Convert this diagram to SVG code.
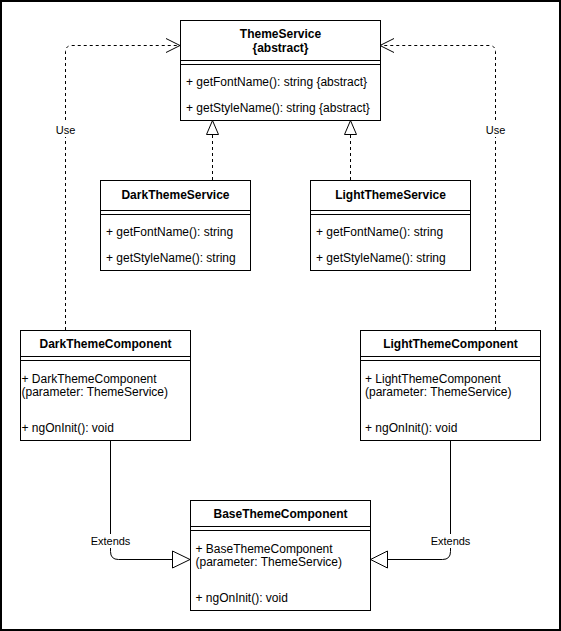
<svg xmlns="http://www.w3.org/2000/svg" width="561" height="631" viewBox="0 0 561 631">
<style>
.box{fill:#fff;stroke:#000;stroke-width:1}
.ln{stroke:#000;stroke-width:1;fill:none}
.t{font-family:"Liberation Sans",Arial,Helvetica,sans-serif;font-size:12px;fill:#000}
.b{font-weight:bold;text-anchor:middle}
.lbl{font-family:"Liberation Sans",Arial,Helvetica,sans-serif;font-size:11px;fill:#000;text-anchor:middle}
.dash{stroke:#000;stroke-width:1;fill:none;stroke-dasharray:3 3}
.sol{stroke:#000;stroke-width:1;fill:none}
.tri{fill:#fff;stroke:#000;stroke-width:1}
</style>
<rect x="0" y="0" width="561" height="631" fill="#fff"/>
<rect x="1" y="1" width="559" height="629" fill="none" stroke="#000" stroke-width="2"/>

<g id="connectors">
  <path class="dash" d="M65.5 330 V52 Q65.5 45.5 72 45.5 H179"/>
  <polyline class="ln" points="166,38.5 180,45.5 166,52.5"/>
  <path class="dash" d="M495.5 330 V52 Q495.5 45.5 489 45.5 H381"/>
  <polyline class="ln" points="394,38.5 380,45.5 394,52.5"/>
  <path class="dash" d="M212.5 180 V134.5"/>
  <polygon class="tri" points="212.5,120.5 206.5,134.5 218.5,134.5"/>
  <path class="dash" d="M350.5 180 V134.5"/>
  <polygon class="tri" points="350.5,120.5 344.5,134.5 356.5,134.5"/>
  <path class="sol" d="M110.5 440 V551.5 Q110.5 559.5 118.5 559.5 H172.5"/>
  <polygon class="tri" points="172.5,551 190,559.5 172.5,568"/>
  <path class="sol" d="M450.5 440 V551.5 Q450.5 559.5 442.5 559.5 H387.5"/>
  <polygon class="tri" points="387.5,551 370.5,559.5 387.5,568"/>
  <rect x="54" y="123" width="23" height="14" fill="#fff"/>
  <text class="lbl" x="65.5" y="134">Use</text>
  <rect x="484" y="123" width="23" height="14" fill="#fff"/>
  <text class="lbl" x="495.5" y="134">Use</text>
  <rect x="89" y="534" width="43" height="14" fill="#fff"/>
  <text class="lbl" x="110.5" y="545">Extends</text>
  <rect x="429" y="534" width="43" height="14" fill="#fff"/>
  <text class="lbl" x="450.5" y="545">Extends</text>
</g>

<g id="ThemeService">
  <rect class="box" x="180.5" y="20.5" width="200" height="100"/>
  <line class="ln" x1="180.5" y1="60.5" x2="380.5" y2="60.5"/>
  <line class="ln" x1="180.5" y1="64.5" x2="380.5" y2="64.5"/>
  <text class="t b" x="280.5" y="38">ThemeService</text>
  <text class="t b" x="280.5" y="52">{abstract}</text>
  <text class="t" x="186" y="86">+ getFontName(): string {abstract}</text>
  <text class="t" x="186" y="112">+ getStyleName(): string {abstract}</text>
</g>

<g id="DarkThemeService">
  <rect class="box" x="100.5" y="180.5" width="150" height="90"/>
  <line class="ln" x1="100.5" y1="210.5" x2="250.5" y2="210.5"/>
  <line class="ln" x1="100.5" y1="214.5" x2="250.5" y2="214.5"/>
  <text class="t b" x="175.5" y="199">DarkThemeService</text>
  <text class="t" x="106" y="236">+ getFontName(): string</text>
  <text class="t" x="106" y="262">+ getStyleName(): string</text>
</g>

<g id="LightThemeService">
  <rect class="box" x="310.5" y="180.5" width="160" height="90"/>
  <line class="ln" x1="310.5" y1="210.5" x2="470.5" y2="210.5"/>
  <line class="ln" x1="310.5" y1="214.5" x2="470.5" y2="214.5"/>
  <text class="t b" x="390.5" y="199">LightThemeService</text>
  <text class="t" x="316" y="236">+ getFontName(): string</text>
  <text class="t" x="316" y="262">+ getStyleName(): string</text>
</g>

<g id="DarkThemeComponent">
  <rect class="box" x="20.5" y="330.5" width="170" height="110"/>
  <line class="ln" x1="20.5" y1="356.5" x2="190.5" y2="356.5"/>
  <line class="ln" x1="20.5" y1="360.5" x2="190.5" y2="360.5"/>
  <text class="t b" x="105.5" y="348">DarkThemeComponent</text>
  <text class="t" x="21.5" y="383">+ DarkThemeComponent</text>
  <text class="t" x="21.5" y="396">(parameter: ThemeService)</text>
  <text class="t" x="21.5" y="432">+ ngOnInit(): void</text>
</g>

<g id="LightThemeComponent">
  <rect class="box" x="360.5" y="330.5" width="180" height="110"/>
  <line class="ln" x1="360.5" y1="356.5" x2="540.5" y2="356.5"/>
  <line class="ln" x1="360.5" y1="360.5" x2="540.5" y2="360.5"/>
  <text class="t b" x="450.5" y="348">LightThemeComponent</text>
  <text class="t" x="365" y="383">+ LightThemeComponent</text>
  <text class="t" x="365" y="396">(parameter: ThemeService)</text>
  <text class="t" x="365" y="432">+ ngOnInit(): void</text>
</g>

<g id="BaseThemeComponent">
  <rect class="box" x="190.5" y="500.5" width="180" height="110"/>
  <line class="ln" x1="190.5" y1="526.5" x2="370.5" y2="526.5"/>
  <line class="ln" x1="190.5" y1="530.5" x2="370.5" y2="530.5"/>
  <text class="t b" x="280.5" y="518">BaseThemeComponent</text>
  <text class="t" x="195.5" y="553">+ BaseThemeComponent</text>
  <text class="t" x="195.5" y="566">(parameter: ThemeService)</text>
  <text class="t" x="195.5" y="602">+ ngOnInit(): void</text>
</g>
</svg>
